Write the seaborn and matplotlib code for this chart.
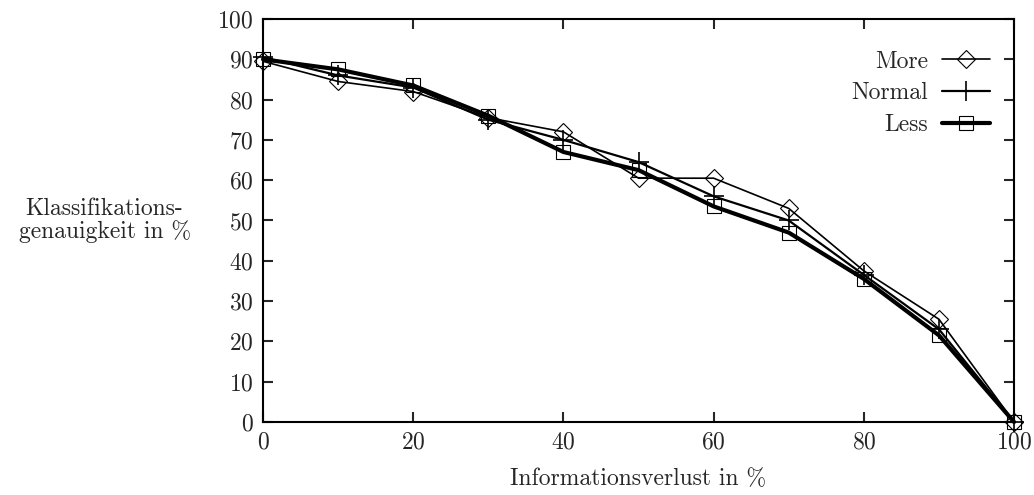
import pandas as pd
import matplotlib
matplotlib.use("Agg")
import matplotlib.pyplot as plt
import seaborn as sns

# Informationsverlust (x) and accuracy per series
verlust = [0, 10, 20, 30, 40, 50, 60, 70, 80, 90, 100]
more = [89.5, 84.5, 82.0, 75.5, 72.0, 60.5, 60.5, 53.0, 37.5, 25.5, 0.0]
normal = [90.5, 86.0, 83.0, 75.0, 70.0, 64.5, 56.0, 50.0, 36.5, 23.0, 0.0]
less = [90.0, 87.5, 83.5, 76.0, 67.0, 62.5, 53.5, 47.0, 35.5, 21.5, 0.0]

xticks = [0, 20, 40, 60, 80, 100]
yticks = list(range(0, 101, 10))

sns.set_style("ticks")
plt.rcParams["font.family"] = ["cmr10", "DejaVu Serif"]
plt.rcParams["axes.formatter.use_mathtext"] = True
fs = 17

df = pd.DataFrame({"x": verlust, "More": more, "Normal": normal, "Less": less})

fig = plt.figure(figsize=(10.34, 4.95), dpi=100)
ax = fig.add_axes([0.2544, 0.1475, 0.7263, 0.8141])

sns.lineplot(data=df, x="x", y="More", ax=ax, color="black", linewidth=1.2,
             marker="D", markersize=9.5, markerfacecolor="none",
             markeredgecolor="black", markeredgewidth=0.8, label="More",
             clip_on=False)
sns.lineplot(data=df, x="x", y="Normal", ax=ax, color="black", linewidth=1.6,
             marker="+", markersize=14, markeredgecolor="black",
             markeredgewidth=1.2, label="Normal", clip_on=False)
sns.lineplot(data=df, x="x", y="Less", ax=ax, color="black", linewidth=3.0,
             marker="s", markersize=10, markerfacecolor="none",
             markeredgecolor="black", markeredgewidth=0.8, label="Less",
             clip_on=False)

ax.set_xlim(0, 100)
ax.set_ylim(0, 100)
ax.set_xticks(xticks)
ax.set_yticks(yticks)
ax.tick_params(direction="in", top=True, right=True, length=7, width=1.5,
               labelsize=fs, pad=7)
for s in ax.spines.values():
    s.set_linewidth(1.5)
    s.set_color("black")

ax.set_xlabel("Informationsverlust in %", fontsize=fs, labelpad=10)
ax.set_ylabel("Klassifikations-\ngenauigkeit in %", fontsize=fs, rotation=0,
              ha="center", va="center", linespacing=1.0)
ax.yaxis.set_label_coords(-0.211, 0.50)

ax.legend(loc="upper right", frameon=False, markerfirst=False, fontsize=fs,
          handlelength=2.0, handletextpad=0.6, labelspacing=0.4,
          borderaxespad=0.0, bbox_to_anchor=(0.98, 0.945))

fig.savefig("out.png", dpi=100)
